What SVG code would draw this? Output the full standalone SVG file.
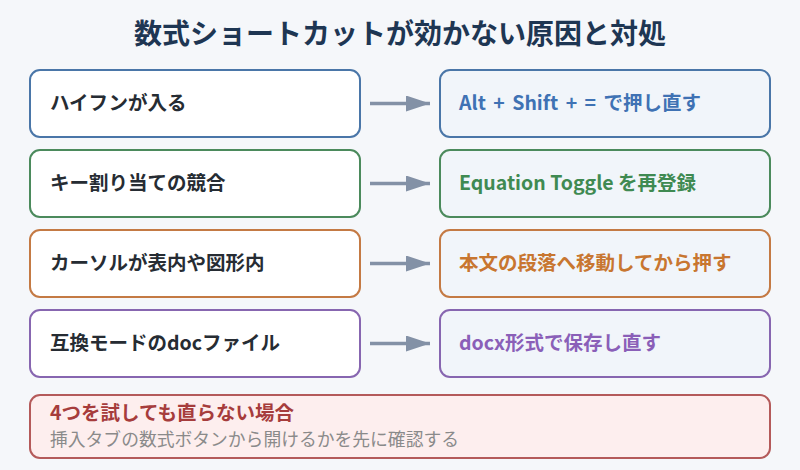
<svg xmlns="http://www.w3.org/2000/svg" width="800" height="470" viewBox="0 0 800 470">
<defs>
<marker id="ah" viewBox="0 0 10 10" refX="10" refY="5" markerWidth="24" markerHeight="16" markerUnits="userSpaceOnUse" orient="auto" preserveAspectRatio="none"><path d="M0,0 L10,5 L0,10 z" fill="#8391a6"/></marker>
<style>
text{font-family:"Noto Sans CJK JP","Noto Sans",sans-serif;}
.title{font-size:28px;font-weight:700;fill:#1e3653;text-anchor:middle;}
.l{fill:#ffffff;stroke-width:2;}
.r{fill:#f1f5fa;stroke-width:2;}
.lt{font-size:19.5px;font-weight:700;fill:#262c33;}
.rt{font-size:19.5px;font-weight:700;}
.conn line{stroke:#8391a6;stroke-width:3.5;}
</style>
</defs>
<rect width="800" height="470" fill="#f5f7fa"/>
<text class="title" x="400" y="44">数式ショートカットが効かない原因と対処</text>

<g id="cause1"><rect class="l" x="30" y="70" width="330" height="67" rx="10" stroke="#4a76a8"/><text class="lt" x="50" y="110">ハイフンが入る</text></g>
<g id="fix1"><rect class="r" x="440" y="70" width="330" height="67" rx="10" stroke="#4a76a8"/><text class="rt" x="459" y="110" fill="#3f72b4" word-spacing="3">Alt + Shift + = で押し直す</text></g>

<g id="cause2"><rect class="l" x="30" y="150" width="330" height="67" rx="10" stroke="#4b8a5c"/><text class="lt" x="50" y="190">キー割り当ての競合</text></g>
<g id="fix2"><rect class="r" x="440" y="150" width="330" height="67" rx="10" stroke="#4b8a5c"/><text class="rt" x="459" y="190" fill="#3f8a52">Equation Toggle を再登録</text></g>

<g id="cause3"><rect class="l" x="30" y="230" width="330" height="67" rx="10" stroke="#c47a44"/><text class="lt" x="50" y="270">カーソルが表内や図形内</text></g>
<g id="fix3"><rect class="r" x="440" y="230" width="330" height="67" rx="10" stroke="#c47a44"/><text class="rt" x="459" y="270" fill="#c87630">本文の段落へ移動してから押す</text></g>

<g id="cause4"><rect class="l" x="30" y="310" width="330" height="67" rx="10" stroke="#8766b0"/><text class="lt" x="50" y="350">互換モードのdocファイル</text></g>
<g id="fix4"><rect class="r" x="440" y="310" width="330" height="67" rx="10" stroke="#8766b0"/><text class="rt" x="459" y="350" fill="#8a5fb8">docx形式で保存し直す</text></g>

<g id="note"><rect x="30" y="395" width="740" height="63" rx="10" fill="#fdeeee" stroke="#b45a5a" stroke-width="2"/><text x="50" y="420" font-size="19.5" font-weight="700" fill="#a63c3c">4つを試しても直らない場合</text><text x="50" y="446" font-size="17.8" fill="#8a8a8a">挿入タブの数式ボタンから開けるかを先に確認する</text></g>

<g class="conn" id="connectors">
<line x1="370" y1="103.5" x2="430" y2="103.5" marker-end="url(#ah)"/>
<line x1="370" y1="183.5" x2="430" y2="183.5" marker-end="url(#ah)"/>
<line x1="370" y1="263.5" x2="430" y2="263.5" marker-end="url(#ah)"/>
<line x1="370" y1="343.5" x2="430" y2="343.5" marker-end="url(#ah)"/>
</g>
</svg>
